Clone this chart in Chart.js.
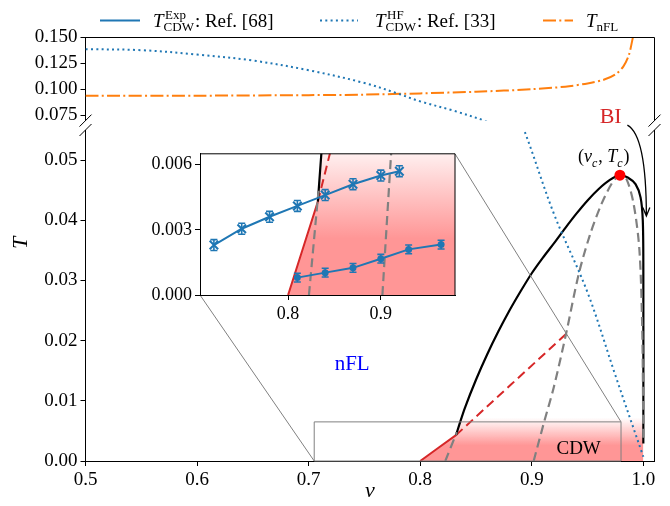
<!DOCTYPE html>
<html>
<head>
<meta charset="utf-8">
<script src="https://cdn.jsdelivr.net/npm/chart.js@4.4.1/dist/chart.umd.min.js"></script>
<style>
  body { margin: 0; background: #fff; }
  #wrap { position: relative; width: 670px; height: 506px; overflow: hidden; }
  #wrap canvas { position: absolute; }
</style>
</head>
<body>
<div id="wrap">
  <canvas id="topChart" width="670" height="135" style="left:0;top:0"></canvas>
  <canvas id="lowChart" width="670" height="406" style="left:0;top:100px"></canvas>
  <canvas id="insetChart" width="325" height="185" style="left:140px;top:140px"></canvas>
</div>
<script>
// axes
const xRange = [0.5, 1.01];
const xTicks = [0.5, 0.6, 0.7, 0.8, 0.9, 1.0];
const topRange = [0.07, 0.15];
const topTicks = [0.075, 0.100, 0.125, 0.150];
const lowRange = [0, 0.055];
const lowTicks = [0.00, 0.01, 0.02, 0.03, 0.04, 0.05];
const zoomX = [0.705, 0.98];
const zoomY = [0, 0.0065];
const insetXTicks = [0.8, 0.9];
const insetYTicks = [0.000, 0.003, 0.006];

// T_CDW^HF (Ref. [33])
const hfNu = [0.5, 0.55, 0.6, 0.65, 0.7, 0.75, 0.78, 0.8, 0.83, 0.86, 0.89, 0.92, 0.95, 0.975, 1.0];
const hfT = [0.1388, 0.1378, 0.1336, 0.1278, 0.1185, 0.1062, 0.0960, 0.0885, 0.0795, 0.0690, 0.0565, 0.0410, 0.0280, 0.0142, 0.0007];

// T_nFL
const nflNu = [0.5, 0.6, 0.7, 0.75, 0.8, 0.85, 0.9, 0.93, 0.95, 0.965, 0.975, 0.982, 0.987, 0.991];
const nflT = [0.094, 0.094, 0.0945, 0.095, 0.0962, 0.0978, 0.1002, 0.1027, 0.1058, 0.1095, 0.1145, 0.122, 0.133, 0.152];

// transition line (black)
const tcNu = [0.8321, 0.835, 0.84, 0.85, 0.86, 0.87, 0.88, 0.89, 0.90, 0.91, 0.92, 0.93, 0.94, 0.95, 0.96, 0.97, 0.979, 0.986, 0.993, 0.9975, 0.9995, 1.0, 1.0];
const tcT = [0.0043, 0.0060, 0.0088, 0.0135, 0.0177, 0.0215, 0.0250, 0.0282, 0.0312, 0.0338, 0.0362, 0.0387, 0.0411, 0.0433, 0.0452, 0.0467, 0.0475, 0.0471, 0.0460, 0.0438, 0.0400, 0.0320, 0.0029];

// red solid / red dashed
const redNu = [0.8, 0.8321];
const redT = [0, 0.0043];
const redDashNu = [0.8321, 0.9307];
const redDashT = [0.0043, 0.0211];

// gray dashed lines
const grayNu = [0.8225, 0.8328];
const grayT = [0, 0.0048];
const domeNu = [0.9017, 0.9108, 0.9198, 0.9307, 0.942, 0.952, 0.962, 0.972, 0.979, 0.985, 0.9915, 0.9965, 0.999, 1.0];
const domeT = [0, 0.0063, 0.0123, 0.0211, 0.0310, 0.0375, 0.0425, 0.0462, 0.0475, 0.0468, 0.0425, 0.0350, 0.0220, 0.0035];

// critical point
const peakNu = [0.979];
const peakT = [0.0475];

// T_CDW^Exp (Ref. [68])
const expUpNu = [0.72, 0.75, 0.78, 0.81, 0.84, 0.87, 0.90, 0.92];
const expUpT = [0.0023, 0.00305, 0.0036, 0.0041, 0.0046, 0.0051, 0.0055, 0.0057];
const expUpErr = [0.00025, 0.00025, 0.00025, 0.00025, 0.00025, 0.00025, 0.00025, 0.00025];
const expLoNu = [0.81, 0.84, 0.87, 0.90, 0.93, 0.965];
const expLoT = [0.0008, 0.00103, 0.00125, 0.00167, 0.0021, 0.00232];
const expLoErr = [0.0002, 0.0002, 0.0002, 0.0002, 0.0002, 0.0002];

// styles
const SERIF = '"Liberation Serif", serif';
const BLUE = '#1f77b4', ORANGE = '#ff7f0e', RED = '#d62728', GRAY = '#808080';
const HF_DASH = [2, 3.3];
const NFL_DASH = [13, 3.3, 2, 3.3];
const DASH = [9, 5];
const PINK = '255,150,150';
const FADE_SOLID = 0.0026, FADE_END = 0.0072;

// annotation anchors (data coords of the lower panel)
const NFL_AT = [0.739, 0.016];
const CDW_AT = [0.942, 0.002];
const BI_AT = [0.9707, 0.0571];
const TC_AT = [0.9645, 0.0505];
const ARROW = { from: [0.9857, 0.0558], ctrl: [1.0027, 0.0541], to: [1.0027, 0.0407] };

Chart.defaults.font.family = SERIF;
Chart.defaults.color = '#000';

function pts(xs, ys) {
  return xs.map((x, i) => ({ x: x, y: ys[i] }));
}

function pinkGradient(context) {
  const chart = context.chart;
  if (!chart.chartArea) return 'transparent';
  const y = chart.scales.y;
  const g = chart.ctx.createLinearGradient(0, y.getPixelForValue(0), 0, y.getPixelForValue(FADE_END));
  g.addColorStop(0, 'rgba(' + PINK + ',1)');
  g.addColorStop(FADE_SOLID / FADE_END, 'rgba(' + PINK + ',1)');
  g.addColorStop(1, 'rgba(' + PINK + ',0)');
  return g;
}

function line(data, color, width, dash, order, extra) {
  return Object.assign({
    data: data, showLine: true, borderColor: color, borderWidth: width, borderDash: dash,
    pointRadius: 0, pointHoverRadius: 0, fill: false, tension: 0.3, capBezierPoints: false, order: order
  }, extra || {});
}

function phaseDatasets() {
  return [
    { data: pts(peakNu, peakT), showLine: false, pointRadius: 5.5, pointBackgroundColor: '#ff0000', pointBorderWidth: 0, order: 0 },
    line(pts(domeNu, domeT), GRAY, 2.2, DASH, 2),
    line(pts(grayNu, grayT), GRAY, 2.2, DASH, 2),
    line(pts(tcNu, tcT), '#000', 2.2, [], 3),
    line(pts(redDashNu, redDashT), RED, 2, DASH, 4),
    line(pts(redNu, redT), RED, 2, [], 4),
    line(pts(redNu.concat(tcNu), redT.concat(tcT)), 'transparent', 1, [], 9, { fill: 'origin', backgroundColor: pinkGradient })
  ];
}

function linScale(range, ticks, digits, size, fit, display) {
  return {
    type: 'linear', min: range[0], max: range[1], bounds: 'data', display: display !== false,
    afterBuildTicks: s => { s.ticks = ticks.map(v => ({ value: v })); },
    afterFit: fit,
    ticks: { autoSkip: false, maxRotation: 0, padding: 3, color: '#000', font: { size: size, family: SERIF }, callback: v => v.toFixed(digits) },
    grid: { display: true, drawOnChartArea: false, drawTicks: true, tickLength: 5, tickColor: '#000', tickWidth: 1 },
    border: { display: true, color: '#000', width: 1 }
  };
}

function mathText(ctx, x, y, parts, size, draw) {
  let cx = x;
  const small = Math.round(size * 0.66);
  ctx.textAlign = 'left';
  ctx.textBaseline = 'alphabetic';
  parts.forEach(p => {
    if (typeof p === 'string') {
      ctx.font = size + 'px ' + SERIF;
      if (draw) ctx.fillText(p, cx, y);
      cx += ctx.measureText(p).width;
    } else if (p.i) {
      ctx.font = 'italic ' + size + 'px ' + SERIF;
      if (draw) ctx.fillText(p.i, cx, y);
      cx += ctx.measureText(p.i).width;
    } else {
      ctx.font = (p.it ? 'italic ' : '') + small + 'px ' + SERIF;
      let w = 0;
      if (p.sup) {
        if (draw) ctx.fillText(p.sup, cx + 1.5, y - size * 0.42);
        w = Math.max(w, ctx.measureText(p.sup).width + 1.5);
      }
      if (p.sub) {
        if (draw) ctx.fillText(p.sub, cx, y + size * 0.25);
        w = Math.max(w, ctx.measureText(p.sub).width);
      }
      cx += w + 1;
    }
  });
  return cx - x;
}

function framePlugin(sides, breakAt) {
  return {
    id: 'frame',
    afterDraw(chart) {
      const ctx = chart.ctx, a = chart.chartArea;
      ctx.save();
      ctx.strokeStyle = '#000';
      ctx.lineWidth = 1;
      ctx.beginPath();
      if (sides.indexOf('top') >= 0) { ctx.moveTo(a.left, a.top); ctx.lineTo(a.right, a.top); }
      if (sides.indexOf('right') >= 0) { ctx.moveTo(a.right, a.top); ctx.lineTo(a.right, a.bottom); }
      if (breakAt) {
        const yb = breakAt === 'bottom' ? a.bottom : a.top;
        [a.left, a.right].forEach(xb => { ctx.moveTo(xb - 6, yb + 6); ctx.lineTo(xb + 6, yb - 6); });
      }
      ctx.stroke();
      ctx.restore();
    }
  };
}

const errorBarPlugin = {
  id: 'errbars',
  afterDatasetsDraw(chart) {
    const ctx = chart.ctx, x = chart.scales.x, y = chart.scales.y;
    chart.data.datasets.forEach(ds => {
      if (!ds.errorBars) return;
      ctx.save();
      ctx.strokeStyle = BLUE;
      ctx.lineWidth = 1.6;
      ctx.beginPath();
      ds.data.forEach((p, i) => {
        const px = x.getPixelForValue(p.x);
        const lo = y.getPixelForValue(p.y - ds.errorBars[i]);
        const hi = y.getPixelForValue(p.y + ds.errorBars[i]);
        ctx.moveTo(px, lo); ctx.lineTo(px, hi);
        ctx.moveTo(px - 3.5, lo); ctx.lineTo(px + 3.5, lo);
        ctx.moveTo(px - 3.5, hi); ctx.lineTo(px + 3.5, hi);
      });
      ctx.stroke();
      ctx.restore();
    });
  }
};

const whiteArea = {
  id: 'whiteArea',
  beforeDraw(chart) {
    const a = chart.chartArea;
    chart.ctx.save();
    chart.ctx.fillStyle = '#fff';
    chart.ctx.fillRect(a.left, a.top, a.right - a.left, a.bottom - a.top);
    chart.ctx.restore();
  }
};

const baseOptions = (padding, scales) => ({
  responsive: false, animation: false, events: [],
  layout: { padding: padding },
  plugins: { legend: { display: false }, tooltip: { enabled: false } },
  scales: scales
});

// inset
const insetChart = new Chart(document.getElementById('insetChart'), {
  type: 'scatter',
  data: {
    datasets: [
      line(pts(expUpNu, expUpT), BLUE, 2, [], 0, { pointRadius: 6, pointStyle: 'crossRot', pointBorderColor: BLUE, pointBorderWidth: 2, tension: 0, errorBars: expUpErr }),
      line(pts(expLoNu, expLoT), BLUE, 2, [], 0, { pointRadius: 3.5, pointStyle: 'circle', pointBackgroundColor: BLUE, pointBorderWidth: 0, tension: 0, errorBars: expLoErr })
    ].concat(phaseDatasets())
  },
  options: baseOptions({ left: 0, right: 10, top: 6, bottom: 0 }, {
    x: linScale(zoomX, insetXTicks, 1, 18, s => { s.height = 30; }),
    y: linScale(zoomY, insetYTicks, 3, 18, s => { s.width = 60; })
  }),
  plugins: [whiteArea, errorBarPlugin, framePlugin(['top', 'right'])]
});
const INSET_OFF = { x: 140, y: 140 };
const LOW_OFF = { x: 0, y: 100 };

const lowAnnot = {
  id: 'lowAnnot',
  afterDraw(chart) {
    const ctx = chart.ctx, x = chart.scales.x, y = chart.scales.y, a = chart.chartArea;
    const X = v => x.getPixelForValue(v), Y = v => y.getPixelForValue(v);
    ctx.save();
    // zoom rectangle and connectors
    const r0 = { x: X(zoomX[0]), y: Y(zoomY[0]) }, r1 = { x: X(zoomX[1]), y: Y(zoomY[1]) };
    const ia = insetChart.chartArea;
    const dx = INSET_OFF.x - LOW_OFF.x, dy = INSET_OFF.y - LOW_OFF.y;
    ctx.strokeStyle = GRAY;
    ctx.lineWidth = 1;
    ctx.beginPath();
    ctx.rect(r0.x, r1.y, r1.x - r0.x, r0.y - r1.y);
    ctx.moveTo(ia.left + dx, ia.bottom + dy); ctx.lineTo(r0.x, r0.y);
    ctx.moveTo(ia.right + dx, ia.top + dy); ctx.lineTo(r1.x, r1.y);
    ctx.stroke();
    // labels
    ctx.textAlign = 'center';
    ctx.textBaseline = 'middle';
    ctx.fillStyle = '#0000ff';
    ctx.font = '21px ' + SERIF;
    ctx.fillText('nFL', X(NFL_AT[0]), Y(NFL_AT[1]));
    ctx.fillStyle = '#000';
    ctx.font = '19px ' + SERIF;
    ctx.fillText('CDW', X(CDW_AT[0]), Y(CDW_AT[1]));
    ctx.fillStyle = RED;
    ctx.font = '22px ' + SERIF;
    ctx.fillText('BI', X(BI_AT[0]), Y(BI_AT[1]));
    ctx.fillStyle = '#000';
    const tcParts = ['(', { i: 'ν' }, { sub: 'c', it: true }, ', ', { i: 'T' }, { sub: 'c', it: true }, ')'];
    const w = mathText(ctx, 0, 0, tcParts, 18, false);
    mathText(ctx, X(TC_AT[0]) - w / 2, Y(TC_AT[1]) + 5, tcParts, 18, true);
    // arrow from BI
    const p0 = [X(ARROW.from[0]), Y(ARROW.from[1])], pc = [X(ARROW.ctrl[0]), Y(ARROW.ctrl[1])], p1 = [X(ARROW.to[0]), Y(ARROW.to[1])];
    ctx.strokeStyle = '#000';
    ctx.lineWidth = 1.3;
    ctx.beginPath();
    ctx.moveTo(p0[0], p0[1]);
    ctx.quadraticCurveTo(pc[0], pc[1], p1[0], p1[1]);
    ctx.moveTo(p1[0] - 3.5, p1[1] - 8.5); ctx.lineTo(p1[0], p1[1]); ctx.lineTo(p1[0] + 3.5, p1[1] - 8.5);
    ctx.stroke();
    // axis titles
    ctx.font = 'italic 22px ' + SERIF;
    ctx.textAlign = 'center';
    ctx.textBaseline = 'alphabetic';
    ctx.fillText('ν', (a.left + a.right) / 2, a.bottom + 36);
    ctx.translate(21.5, 243 - LOW_OFF.y);
    ctx.rotate(-Math.PI / 2);
    ctx.textBaseline = 'middle';
    ctx.fillText('T', 0, 0);
    ctx.restore();
  }
};

new Chart(document.getElementById('lowChart'), {
  type: 'scatter',
  data: {
    datasets: [line(pts(hfNu, hfT), BLUE, 2, HF_DASH, 1, { tension: 0.35 })].concat(phaseDatasets())
  },
  options: baseOptions({ left: 0, right: 15.5, top: 30, bottom: 0 }, {
    x: linScale(xRange, xTicks, 1, 19, s => { s.height = 45; }),
    y: linScale(lowRange, lowTicks, 2, 19, s => { s.width = 85.5; })
  }),
  plugins: [framePlugin(['right'], 'top'), lowAnnot]
});

const legendPlugin = {
  id: 'legendRow',
  afterDraw(chart) {
    const ctx = chart.ctx;
    ctx.save();
    const ly = 20.5, base = 26.5;
    const sample = (x0, x1, color, dash) => {
      ctx.beginPath();
      ctx.strokeStyle = color;
      ctx.lineWidth = 2;
      ctx.setLineDash(dash);
      ctx.moveTo(x0, ly);
      ctx.lineTo(x1, ly);
      ctx.stroke();
    };
    sample(100, 140, BLUE, []);
    sample(320, 358, BLUE, HF_DASH);
    sample(543, 573, ORANGE, NFL_DASH);
    ctx.setLineDash([]);
    ctx.fillStyle = '#000';
    mathText(ctx, 153, base, [{ i: 'T' }, { sup: 'Exp', sub: 'CDW' }, ': Ref. [68]'], 19, true);
    mathText(ctx, 375, base, [{ i: 'T' }, { sup: 'HF', sub: 'CDW' }, ': Ref. [33]'], 19, true);
    mathText(ctx, 586, base, [{ i: 'T' }, { sub: 'nFL' }], 19, true);
    ctx.restore();
  }
};

new Chart(document.getElementById('topChart'), {
  type: 'scatter',
  data: {
    datasets: [
      line(pts(hfNu, hfT), BLUE, 2, HF_DASH, 1, { tension: 0.35 }),
      line(pts(nflNu, nflT), ORANGE, 2, NFL_DASH, 2, { tension: 0.3 })
    ]
  },
  options: baseOptions({ left: 0, right: 15.5, top: 37.5, bottom: 14 }, {
    x: linScale(xRange, xTicks, 1, 19, s => { s.height = 0; }, false),
    y: linScale(topRange, topTicks, 3, 19, s => { s.width = 85.5; })
  }),
  plugins: [framePlugin(['top', 'right'], 'bottom'), legendPlugin]
});
</script>
</body>
</html>
